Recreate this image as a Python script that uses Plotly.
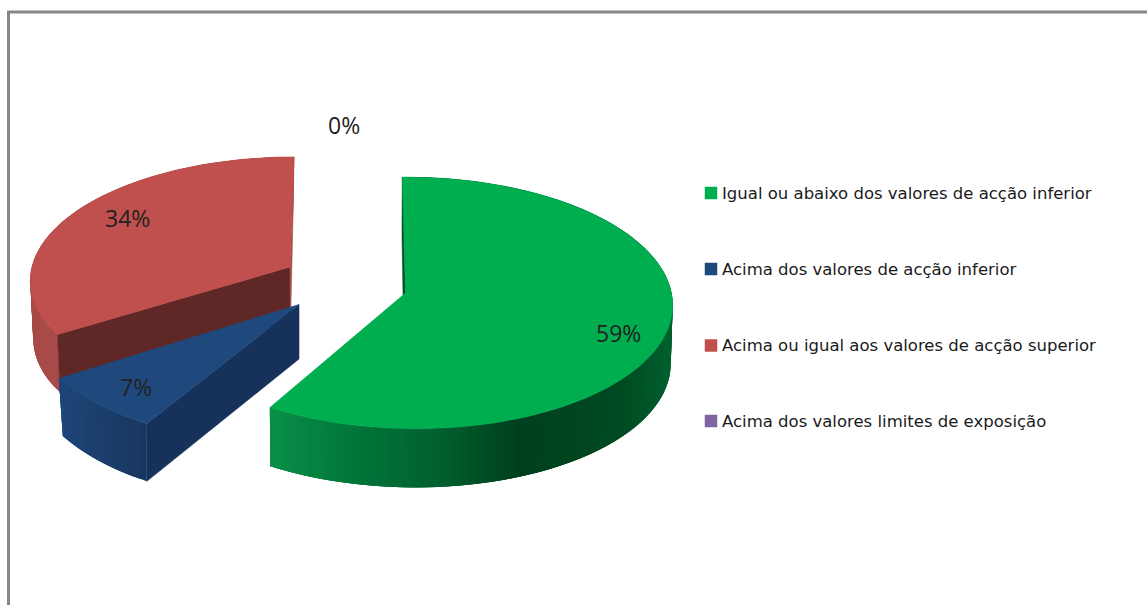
import math
import plotly.graph_objects as go

# Chart data
categories = [
    "Igual ou abaixo dos valores de acção inferior",
    "Acima dos valores de acção inferior",
    "Acima ou igual aos valores de acção superior",
    "Acima dos valores limites de exposição",
]
values = [59, 7, 34, 0]
value_labels = ["59%", "7%", "34%", "0%"]

# Slice colours
top_colors = ["#00ae50", "#1f497d", "#c0504d", "#8064a2"]
cut_colors = ["#00562a", "#17325a", "#5f2725", "#4d3c61"]

# Projection of each exploded slice onto the page: rim ellipse, apex, perspective and thickness
GEOMETRY = {
    0: dict(cx=411, cy=293, a=260.5, b=125, k=0.079, vx=356, rot=-1.1,
            apex=(405.5, 293), apex_low=(404, 351), depth=58.7, vb=350, shrink=0.994,
            rim_stops=[(268, "#0a8f48"), (350, "#00773a"), (440, "#00602e"),
                       (520, "#003f1e"), (620, "#004a22"), (672, "#00602e")]),
    1: dict(cx=314, cy=304.5, a=289, b=133, k=0.07, vx=356, rot=0,
            apex=(299, 304.5), apex_low=(299, 359), depth=57.5, vb=147, shrink=0.955,
            rim_stops=[(60, "#1e4578"), (147, "#18365f")]),
    2: dict(cx=288.4, cy=267, a=256.5, b=120, k=0.09, vx=356, rot=0,
            apex=(290, 267), apex_low=(290.5, 323), depth=58, vb=230, shrink=0.985,
            rim_stops=[(30, "#a84a47"), (300, "#a84a47")]),
}
SIDE_SLIVER = {0: "#00502a", 2: "#a84a47"}  # wall on the far straight edge

LABEL_POS = [(618, 333), (136, 387), (127, 218), (344, 125)]
LEGEND_X = 711
LEGEND_Y = [193, 269, 345.5, 421]
LEGEND_TEXT_X = 720
FRAME = "#868686"


def hex_rgb(h):
    return tuple(int(h[i:i + 2], 16) for i in (1, 3, 5))


def ramp(stops, x):
    if x <= stops[0][0]:
        return stops[0][1]
    for (x0, c0), (x1, c1) in zip(stops, stops[1:]):
        if x <= x1:
            t = (x - x0) / (x1 - x0)
            r0, r1 = hex_rgb(c0), hex_rgb(c1)
            return "#%02x%02x%02x" % tuple(round(p + (q - p) * t) for p, q in zip(r0, r1))
    return stops[-1][1]


def rim_point(g, deg):
    th = math.radians(deg + g["rot"])
    s = 1 + g["k"] * math.cos(th)
    x = g["vx"] + (g["cx"] - g["vx"] + g["a"] * math.sin(th)) / s
    y = g["cy"] - g["b"] * math.cos(th) / s
    return x, y


def lower(g, p):
    return g["vb"] + (p[0] - g["vb"]) * g["shrink"], p[1] + g["depth"]


def poly(pts, color, edge=0.6):
    xs = [p[0] for p in pts] + [pts[0][0]]
    ys = [p[1] for p in pts] + [pts[0][1]]
    return go.Scatter(x=xs, y=ys, mode="lines", fill="toself", fillcolor=color,
                      line=dict(color=color, width=edge), hoverinfo="skip", showlegend=False)


# Slice angles run clockwise from twelve o'clock
total = sum(values)
spans = {}
running = 0.0
for i, v in enumerate(values):
    spans[i] = (running, running + 360 * v / total)
    running += 360 * v / total

fig = go.Figure()

# Back-to-front: red, then blue, then green
for i in (2, 1, 0):
    g = GEOMETRY[i]
    start, end = spans[i]
    steps = max(8, int((end - start) / 1.5))
    arc = [start + (end - start) * n / steps for n in range(steps + 1)]
    rim = [rim_point(g, d) for d in arc]

    # Outer curved wall: overlapping strips so no seams show between neighbours
    for j in range(len(rim) - 1):
        p, q = rim[j], rim[j + 1]
        far = rim[min(j + 3, len(rim) - 1)]
        band = [p, q, far, lower(g, far), lower(g, q), lower(g, p)]
        fig.add_trace(poly(band, ramp(g["rim_stops"], (p[0] + q[0]) / 2), edge=0))

    # Visible straight walls
    if i in (1, 2):
        fig.add_trace(poly([g["apex"], rim[0], lower(g, rim[0]), g["apex_low"]], cut_colors[i]))
    if i in SIDE_SLIVER:
        corner = rim[-1] if i == 2 else rim[0]
        fig.add_trace(poly([g["apex"], corner, lower(g, corner), g["apex_low"]], SIDE_SLIVER[i]))

    # Top face
    fig.add_trace(poly([g["apex"]] + rim, top_colors[i]))

# Legend keys
for i, name in enumerate(categories):
    fig.add_trace(go.Scatter(x=[LEGEND_X], y=[LEGEND_Y[i]], mode="markers", name=name,
                             marker=dict(symbol="square", size=12.5, color=top_colors[i]),
                             hoverinfo="name", showlegend=False))
    fig.add_annotation(x=LEGEND_TEXT_X, y=LEGEND_Y[i], text=name, showarrow=False,
                       xanchor="left", yanchor="middle",
                       font=dict(family="DejaVu Sans", size=16.5, color="#1a1a1a"))

# Percentage labels
for label, (x, y) in zip(value_labels, LABEL_POS):
    fig.add_annotation(x=x, y=y, text=label, showarrow=False, xanchor="center", yanchor="middle",
                       font=dict(family="Open Sans", size=23, color="#222222"))

# Chart frame
fig.add_shape(type="line", x0=8.5, x1=8.5, y0=11, y1=605, line=dict(color=FRAME, width=3), layer="below")
fig.add_shape(type="line", x0=7, x1=1147, y0=12, y1=12, line=dict(color=FRAME, width=3), layer="below")

fig.update_layout(
    width=1147, height=605, autosize=False, margin=dict(l=0, r=0, t=0, b=0),
    paper_bgcolor="white", plot_bgcolor="white", showlegend=False,
    xaxis=dict(range=[0, 1147], visible=False, fixedrange=True),
    yaxis=dict(range=[605, 0], visible=False, fixedrange=True),
)

fig.write_html("out.html", config={"displayModeBar": False})
